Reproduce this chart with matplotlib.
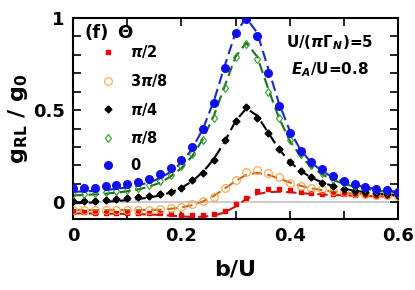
import matplotlib
matplotlib.use("Agg")
import matplotlib.pyplot as plt
import numpy as np

# data (b/U grid, step 0.02)
b = [0.00, 0.02, 0.04, 0.06, 0.08, 0.10, 0.12, 0.14, 0.16, 0.18, 0.20,
     0.22, 0.24, 0.26, 0.28, 0.30, 0.32, 0.34, 0.36, 0.38, 0.40,
     0.42, 0.44, 0.46, 0.48, 0.50, 0.52, 0.54, 0.56, 0.58, 0.60]

# symbols (NRG points)
pts_0 = [0.076, 0.077, 0.080, 0.086, 0.095, 0.102, 0.112, 0.128, 0.152, 0.185, 0.230,
         0.300, 0.400, 0.540, 0.730, 0.920, 0.995, 0.900, 0.700, 0.520, 0.375,
         0.280, 0.220, 0.180, 0.142, 0.115, 0.100, 0.085, 0.075, 0.066, 0.058]
pts_pi8 = [0.045, 0.047, 0.050, 0.054, 0.060, 0.068, 0.078, 0.093, 0.115, 0.150, 0.195,
           0.260, 0.340, 0.460, 0.620, 0.790, 0.860, 0.780, 0.600, 0.460, 0.340,
           0.260, 0.200, 0.160, 0.128, 0.105, 0.090, 0.078, 0.068, 0.060, 0.053]
pts_pi4 = [0.005, 0.007, 0.009, 0.012, 0.016, 0.021, 0.027, 0.035, 0.045, 0.058, 0.078,
           0.120, 0.160, 0.230, 0.340, 0.440, 0.515, 0.460, 0.375, 0.290, 0.220,
           0.170, 0.140, 0.105, 0.087, 0.075, 0.062, 0.055, 0.050, 0.043, 0.038]
pts_3pi8 = [-0.040, -0.040, -0.040, -0.040, -0.040, -0.040, -0.040, -0.040, -0.038, -0.033, -0.025,
            -0.010, 0.005, 0.030, 0.080, 0.120, 0.165, 0.175, 0.160, 0.135, 0.105,
            0.090, 0.078, 0.070, 0.062, 0.056, 0.050, 0.046, 0.042, 0.038, 0.035]
pts_pi2 = [-0.055, -0.055, -0.056, -0.056, -0.057, -0.057, -0.058, -0.058, -0.060, -0.065, -0.068,
           -0.070, -0.070, -0.065, -0.045, -0.010, 0.025, 0.060, 0.075, 0.072, 0.065,
           0.058, 0.052, 0.048, 0.045, 0.043, 0.040, 0.038, 0.036, 0.034, 0.032]

# dashed curves (fits)
fit_0 = [0.057, 0.059, 0.062, 0.067, 0.073, 0.081, 0.092, 0.108, 0.130, 0.165, 0.215,
         0.290, 0.400, 0.550, 0.740, 0.920, 1.000, 0.920, 0.730, 0.540, 0.390,
         0.285, 0.215, 0.170, 0.135, 0.112, 0.095, 0.082, 0.072, 0.064, 0.057]
fit_pi8 = [0.038, 0.040, 0.043, 0.047, 0.053, 0.060, 0.070, 0.085, 0.106, 0.140, 0.185,
           0.250, 0.345, 0.470, 0.630, 0.790, 0.865, 0.790, 0.620, 0.460, 0.335,
           0.250, 0.192, 0.152, 0.122, 0.100, 0.085, 0.073, 0.064, 0.057, 0.051]
fit_pi4 = [-0.005, -0.003, 0.000, 0.003, 0.007, 0.012, 0.018, 0.026, 0.037, 0.053, 0.078,
           0.115, 0.165, 0.235, 0.330, 0.440, 0.510, 0.470, 0.380, 0.290, 0.220,
           0.170, 0.135, 0.108, 0.088, 0.074, 0.063, 0.055, 0.048, 0.043, 0.038]
fit_3pi8 = [-0.042, -0.042, -0.042, -0.042, -0.042, -0.042, -0.042, -0.041, -0.040, -0.035, -0.028,
            -0.015, 0.005, 0.035, 0.075, 0.115, 0.150, 0.160, 0.150, 0.130, 0.108,
            0.090, 0.076, 0.066, 0.058, 0.052, 0.047, 0.043, 0.040, 0.037, 0.035]
fit_pi2 = [-0.060, -0.060, -0.061, -0.061, -0.062, -0.063, -0.064, -0.066, -0.068, -0.072, -0.076,
           -0.079, -0.078, -0.072, -0.055, -0.022, 0.018, 0.045, 0.055, 0.058, 0.055,
           0.050, 0.046, 0.043, 0.040, 0.038, 0.036, 0.034, 0.033, 0.032, 0.030]

labels = [r'$\pi$/2', r'3$\pi$/8', r'$\pi$/4', r'$\pi$/8', '0']

plt.rcParams["font.family"] = "DejaVu Sans"
plt.rcParams["font.weight"] = "bold"
plt.rcParams["mathtext.fontset"] = "custom"
plt.rcParams["mathtext.rm"] = "DejaVu Sans:bold"
plt.rcParams["mathtext.it"] = "DejaVu Sans:italic:bold"
plt.rcParams["mathtext.bf"] = "DejaVu Sans:bold"

fig = plt.figure(figsize=(4.15, 2.9), dpi=100)
ax = fig.add_axes([0.176, 0.245, 0.783, 0.693])

ax.axhline(0, color='#cccccc', lw=1.5, zorder=1)

dash = (5, 2.5)
ax.plot(b, fit_pi2, color='#c01818', lw=1.5, dashes=dash, zorder=2)
ax.plot(b, fit_3pi8, color='#c06a20', lw=1.5, dashes=dash, zorder=2)
ax.plot(b, fit_pi4, color='black', lw=1.5, dashes=dash, zorder=2)
ax.plot(b, fit_pi8, color='#1a701a', lw=1.5, dashes=dash, zorder=2)
ax.plot(b, fit_0, color='#1a28c8', lw=1.5, dashes=dash, zorder=2)

ax.plot(b, pts_pi2, 's', ms=3.5, color='#ee0000', mec='#ee0000', lw=0, label=labels[0], zorder=3)
ax.plot(b, pts_3pi8, 'o', ms=5.5, mfc='none', mec='#ffa040', mew=0.8, lw=0, label=labels[1], zorder=3)
ax.plot(b, pts_pi4, 'D', ms=3.5, color='black', lw=0, label=labels[2], zorder=3)
ax.plot(b, pts_pi8, 'd', ms=4.5, mfc='none', mec='#2ca02c', mew=0.8, lw=0, label=labels[3], zorder=3)
ax.plot(b, pts_0, 'o', ms=5.5, color='#1010ee', lw=0, label=labels[4], zorder=4)

ax.set_xlim(0, 0.6)
ax.set_ylim(-0.09, 1.0)
ax.set_xticks([0, 0.2, 0.4, 0.6])
ax.set_xticklabels(['0', '0.2', '0.4', '0.6'])
ax.set_xticks([0.1, 0.3, 0.5], minor=True)
ax.set_yticks([0, 0.5, 1])
ax.set_yticklabels(['0', '0.5', '1'])
ax.set_yticks([0.1, 0.2, 0.3, 0.4, 0.6, 0.7, 0.8, 0.9], minor=True)
ax.tick_params(which='both', direction='in', top=True, right=True, length=6, width=1.2,
               labelsize=13, pad=6)
for s in ax.spines.values():
    s.set_linewidth(1.5)

ax.set_xlabel('b/U', fontsize=16, fontweight='bold', labelpad=10)
ax.set_ylabel(r'g$_{\mathrm{RL}}$ / g$_0$', fontsize=16, fontweight='bold', labelpad=2)

ax.text(0.035, 0.925, '(f)', transform=ax.transAxes, fontsize=13, fontweight='bold', va='center')
ax.text(0.16, 0.925, 'Θ', transform=ax.transAxes, fontsize=13, fontweight='bold', va='center', ha='center')

ax.text(0.79, 0.875, r'U/($\pi\Gamma_N$)=5', transform=ax.transAxes, fontsize=11,
        fontweight='bold', ha='center', va='center')
ax.text(0.79, 0.745, r'$E_A$/U=0.8', transform=ax.transAxes, fontsize=11,
        fontweight='bold', ha='center', va='center')

ax.legend(loc='upper left', bbox_to_anchor=(0.055, 0.925), frameon=False, fontsize=10.5,
          handlelength=1.0, handletextpad=1.0, labelspacing=0.8, borderpad=0.2)

fig.savefig('out.png', dpi=100)
